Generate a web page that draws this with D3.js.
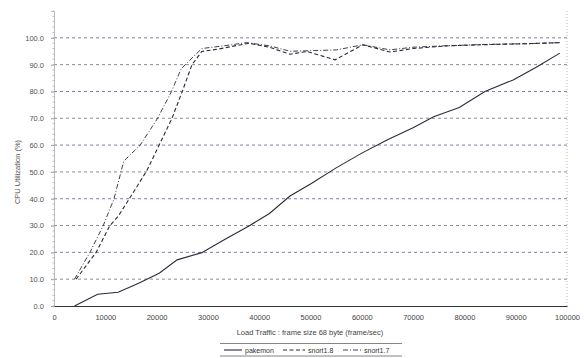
<!DOCTYPE html>
<html><head><meta charset="utf-8">
<script src="https://cdn.jsdelivr.net/npm/d3@7"></script>
<style>body{margin:0;background:#fff}svg{display:block;font-family:"Liberation Sans",Arial,sans-serif}</style>
</head><body><svg id="c" width="584" height="358"></svg>
<script>
const seriesNames = ["pakemon", "snort1.8", "snort1.7"];
const pakemonX = [4000,8500,12500,16500,20500,24000,28800,33000,38000,42000,46000,50000,55000,60000,65000,70000,74000,79000,84000,89500,94000,98600];
const pakemonY = [0,4.4,5.1,8.5,12.2,17.2,19.9,24.5,29.8,34.5,41,45.5,51.5,57,62,66.5,70.6,74,80,84.3,89,94.3];
const snort18X = [4300,8200,10900,12500,16000,18100,20500,23000,25000,26900,28800,32000,38000,42000,46000,49300,54800,60200,65500,70000,76500,85000,92000,98600];
const snort18Y = [10,20,30,33.4,44,50.5,60,70,80,90,94.9,95.8,98,96.5,93.9,94.9,91.8,97.4,94.7,96,97,97.5,97.8,98.2];
const snort17X = [4000,7000,9600,11700,13600,16800,20200,22900,24800,28800,33000,37600,42000,46000,50000,55100,60200,65500,70000,76000,85000,92000,98600];
const snort17Y = [10,20,30,40,54,60,70,80,88.5,96,97,98.2,97,95,95.2,95.5,97.4,95.5,96.5,97,97.6,97.8,98.2];
const xTicks = [0,10000,20000,30000,40000,50000,60000,70000,80000,90000,100000];
const yTicks = [0,10,20,30,40,50,60,70,80,90,100];
const xTitle = "Load Traffic : frame size 68 byte (frame/sec)";
const yTitle = "CPU Utilization (%)";

const svg = d3.select("#c");
const x = d3.scaleLinear().domain([0,100000]).range([54,567]);
const y = d3.scaleLinear().domain([0,110]).range([306,11]);

// gridlines
const gridCols = ["#8a7a80","#6a72a0"];
svg.append("g").selectAll("line").data(yTicks.filter(d=>d>0)).join("line")
  .attr("x1",x(0)).attr("x2",x(100000)).attr("y1",d=>y(d)).attr("y2",d=>y(d))
  .attr("stroke",(d,i)=>gridCols[i%2]).attr("stroke-width",0.9).attr("stroke-dasharray","3,3");

// right border
svg.append("line").attr("x1",x(100000)).attr("x2",x(100000)).attr("y1",y(110)).attr("y2",y(0))
  .attr("stroke","#bbb").attr("stroke-dasharray","1,2");

// y axis
const ya = d3.axisLeft(y).tickValues(yTicks).tickFormat(d3.format(".1f")).tickSize(3).tickPadding(7);
const yg = svg.append("g").attr("transform",`translate(${x(0)},0)`).call(ya);
yg.select(".domain").attr("stroke","#aaa").attr("stroke-width",0.8);
yg.selectAll(".tick line").attr("stroke","#999");
yg.selectAll("text").attr("fill","#555").attr("font-size",7.5);
svg.append("g").selectAll("line").data(d3.range(0,111,2)).join("line")
  .attr("x1",x(0)-1.5).attr("x2",x(0)).attr("y1",d=>y(d)).attr("y2",d=>y(d)).attr("stroke","#bbb");

// x axis
const xa = d3.axisBottom(x).tickValues(xTicks).tickFormat(d3.format("d")).tickSize(0).tickPadding(9);
const xg = svg.append("g").attr("transform",`translate(0,${y(0)})`).call(xa);
xg.select(".domain").attr("stroke","#333").attr("stroke-width",1.2);
xg.selectAll("text").attr("fill","#444").attr("font-size",7.5);

// titles
svg.append("text").attr("x",310).attr("y",335).attr("text-anchor","middle").attr("font-size",7.5).attr("fill","#444").text(xTitle);
svg.append("text").attr("transform","translate(20,172) rotate(-90)").attr("text-anchor","middle").attr("font-size",7.5).attr("fill","#555").text(yTitle);

// lines
const line = d3.line().x(d=>x(d[0])).y(d=>y(d[1]));
const data = [
  {pts:d3.zip(pakemonX,pakemonY), dash:null, w:1.1},
  {pts:d3.zip(snort18X,snort18Y), dash:"4,2.5", w:1.1},
  {pts:d3.zip(snort17X,snort17Y), dash:"5,2,1,2", w:0.9}
];
svg.append("g").selectAll("path").data(data).join("path")
  .attr("d",d=>line(d.pts)).attr("fill","none").attr("stroke","#2a2a3a")
  .attr("stroke-width",d=>d.w).attr("stroke-dasharray",d=>d.dash);

// legend
const lg = svg.append("g");
lg.append("line").attr("x1",220).attr("x2",402).attr("y1",343.5).attr("y2",343.5).attr("stroke","#666").attr("stroke-width",0.8);
lg.append("line").attr("x1",220).attr("x2",402).attr("y1",356).attr("y2",356).attr("stroke","#666").attr("stroke-width",0.8);
const lx = [224,283,343], lw=[18,22,18];
seriesNames.forEach((n,i)=>{
  lg.append("line").attr("x1",lx[i]).attr("x2",lx[i]+lw[i]).attr("y1",350).attr("y2",350)
    .attr("stroke","#2a2a3a").attr("stroke-width",data[i].w).attr("stroke-dasharray",data[i].dash);
  lg.append("text").attr("x",lx[i]+lw[i]+3).attr("y",352.5).attr("font-size",7).attr("fill","#333").text(n);
});
</script></body></html>
